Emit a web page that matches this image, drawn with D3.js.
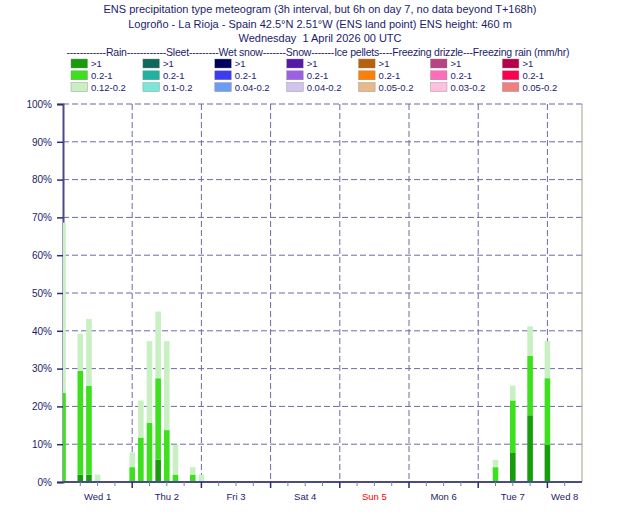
<!doctype html>
<html lang="en">
<head>
<meta charset="utf-8">
<script src="https://d3js.org/d3.v7.min.js"></script>
<style>
    html, body { margin: 0; padding: 0; background: #fff; }
    svg text { font-family: "Liberation Sans", Arial, sans-serif; fill: #1c1c6a; }
</style>
</head>
<body>
<svg id="svg" width="630" height="525"></svg>
<script>
    // forecast step (hours from base time) and probability (%) per rain class
    var hours      = [0, 6, 9, 12, 24, 27, 30, 33, 36, 39, 45, 48, 150, 156, 162, 168];
    var rainHeavy  = [0, 1.96, 1.96, 0, 0, 0, 0, 5.88, 0, 0, 0, 0, 0, 7.84, 17.65, 9.8];
    var rainMid    = [23.53, 27.45, 23.53, 0, 3.92, 11.76, 15.69, 21.57, 13.73, 1.96, 1.96, 0, 3.92, 13.73, 15.69, 17.65];
    var rainLight  = [45.1, 9.8, 17.65, 1.96, 3.92, 9.8, 21.57, 17.65, 23.53, 7.84, 1.96, 1.96, 1.96, 3.92, 7.84, 9.8];

    var dayLabels = ["Wed 1", "Thu 2", "Fri 3", "Sat 4", "Sun 5", "Mon 6", "Tue 7", "Wed 8"];
    var yTicks = [0, 10, 20, 30, 40, 50, 60, 70, 80, 90, 100];

    var legendTypes = ["Rain", "Sleet", "Wet snow", "Snow", "Ice pellets", "Freezing drizzle", "Freezing rain"];
    var legendClasses = [
        [">1", "0.2-1", "0.12-0.2"],
        [">1", "0.2-1", "0.1-0.2"],
        [">1", "0.2-1", "0.04-0.2"],
        [">1", "0.2-1", "0.04-0.2"],
        [">1", "0.2-1", "0.05-0.2"],
        [">1", "0.2-1", "0.03-0.2"],
        [">1", "0.2-1", "0.05-0.2"]
    ];
    var legendColors = [
        ["#189c0c", "#3ce01c", "#c8f0c2"],
        ["#0c6a5c", "#1cb4a0", "#7ce6da"],
        ["#00005e", "#3c3cf2", "#6c9cf4"],
        ["#561aa8", "#9c60e6", "#d2c2ee"],
        ["#b8600c", "#ff8000", "#e8b888"],
        ["#b84282", "#ff6cbc", "#ffc0e0"],
        ["#b8004a", "#ff0050", "#f08080"]
    ];

    (function () {
    var svg = d3.select("#svg");
    var pLeft = 63, pRight = 582, pTop = 104, pBottom = 482;

    var x = d3.scaleLinear().domain([0, 180]).range([pLeft, pRight]);
    var y = d3.scaleLinear().domain([0, 100]).range([pBottom, pTop]);

    // titles
    var titles = [
        "ENS precipitation type meteogram (3h interval, but 6h on day 7, no data beyond T+168h)",
        "Logroño - La Rioja - Spain 42.5°N 2.51°W (ENS land point) ENS height: 460 m",
        "Wednesday  1 April 2026 00 UTC"
    ];
    svg.selectAll(".title").data(titles).enter().append("text")
        .attr("x", 320)
        .attr("y", function (d, i) { return 13 + i * 14.5; })
        .attr("text-anchor", "middle")
        .style("font-size", "11px")
        .style("white-space", "pre")
        .text(function (d) { return d; });

    // legend header
    var dashes = [12, 12, 9, 7, 7, 4, 3];
    var header = legendTypes.map(function (t, i) {
        return "-".repeat(dashes[i]) + t;
    }).join("") + " (mm/hr)";
    svg.append("text")
        .attr("x", 318).attr("y", 56)
        .attr("text-anchor", "middle")
        .style("font-size", "10.5px")
        .attr("textLength", 503)
        .text(header);

    legendTypes.forEach(function (t, c) {
        var gx = 71 + c * 71.9;
        legendClasses[c].forEach(function (lab, r) {
            var gy = 59 + r * 11.8;
            svg.append("rect")
                .attr("x", gx).attr("y", gy)
                .attr("width", 16.5).attr("height", 9)
                .attr("fill", legendColors[c][r])
                .attr("stroke", "#888").attr("stroke-width", 0.4);
            svg.append("text")
                .attr("x", gx + 20).attr("y", gy + 8)
                .style("font-size", "9.5px")
                .text(lab);
        });
    });

    // grid
    svg.append("g").selectAll("line").data(yTicks.slice(1)).enter().append("line")
        .attr("x1", pLeft).attr("x2", pRight)
        .attr("y1", function (d) { return y(d); })
        .attr("y2", function (d) { return y(d); })
        .attr("stroke", function (d) { return d === 100 ? "#b4b4cc" : "#6a6aa4"; })
        .attr("stroke-width", function (d) { return d === 100 ? 2 : 1; })
        .attr("stroke-dasharray", "6,3");

    var dayHours = d3.range(24, 180, 24);
    svg.append("g").selectAll("line").data(dayHours).enter().append("line")
        .attr("x1", function (d) { return x(d); })
        .attr("x2", function (d) { return x(d); })
        .attr("y1", pTop).attr("y2", pBottom)
        .attr("stroke", "#6a6aa4")
        .attr("stroke-dasharray", "6,3");

    // right border
    svg.append("line")
        .attr("x1", pRight).attr("x2", pRight)
        .attr("y1", pTop).attr("y2", pBottom)
        .attr("stroke", "#a89c88").attr("stroke-width", 1);

    // y axis
    var yAxis = svg.append("g")
        .attr("transform", "translate(" + pLeft + ",0)")
        .call(d3.axisLeft(y).tickValues(yTicks).tickSize(6)
            .tickFormat(function (d) { return d + "%"; }));
    yAxis.select(".domain").attr("stroke", "#4a4a86").attr("stroke-width", 2);
    yAxis.selectAll(".tick line").attr("stroke", "#2a2a80").attr("stroke-width", 1.5);
    yAxis.selectAll(".tick text")
        .attr("x", -11)
        .style("font-size", "10px")
        .style("font-family", "Liberation Sans, Arial, sans-serif")
        .attr("fill", "#1c1c6a");

    // bars (drawn over the left axis, as the first step sits on it)
    var table = hours.map(function (h, i) {
        return {h: h, heavy: rainHeavy[i], mid: rainMid[i], light: rainLight[i]};
    });
    var keys = ["heavy", "mid", "light"];
    var stack = d3.stack().keys(keys)(table);

    svg.append("clipPath").attr("id", "plotclip")
        .append("rect").attr("x", pLeft).attr("y", pTop)
        .attr("width", pRight - pLeft).attr("height", pBottom - pTop);

    var barW = 5.6;
    svg.append("g").attr("clip-path", "url(#plotclip)")
        .selectAll("g").data(stack).enter().append("g")
        .attr("fill", function (d, i) { return legendColors[0][i]; })
        .selectAll("rect").data(function (d) { return d; }).enter().append("rect")
        .attr("x", function (d) { return x(d.data.h) - barW / 2; })
        .attr("width", barW)
        .attr("y", function (d) { return y(d[1]); })
        .attr("height", function (d) { return y(d[0]) - y(d[1]); });

    // x axis
    var xg = svg.append("g");
    xg.append("line")
        .attr("x1", pLeft).attr("x2", pRight)
        .attr("y1", pBottom).attr("y2", pBottom)
        .attr("stroke", "#4a4a86").attr("stroke-width", 2);
    xg.selectAll(".minor").data(d3.range(6, 180, 6).filter(function (h) { return h % 24 !== 0; }))
        .enter().append("line")
        .attr("x1", function (d) { return x(d); })
        .attr("x2", function (d) { return x(d); })
        .attr("y1", pBottom).attr("y2", pBottom + 4)
        .attr("stroke", "#7a7ab4");
    xg.selectAll(".major").data(d3.range(24, 180, 24))
        .enter().append("line")
        .attr("x1", function (d) { return x(d); })
        .attr("x2", function (d) { return x(d); })
        .attr("y1", pBottom).attr("y2", pBottom + 6)
        .attr("stroke", "#2a2a80").attr("stroke-width", 1.5);
    xg.selectAll("text").data(dayLabels).enter().append("text")
        .attr("x", function (d, i) {
            var a = i * 24, b = Math.min(180, a + 24);
            return (x(a) + x(b)) / 2;
        })
        .attr("y", 500)
        .attr("text-anchor", "middle")
        .style("font-size", "9.5px")
        .style("fill", function (d) { return d.indexOf("Sun") === 0 ? "#ff0000" : "#1c1c6a"; })
        .text(function (d) { return d; });
    })();
</script>
</body>
</html>
